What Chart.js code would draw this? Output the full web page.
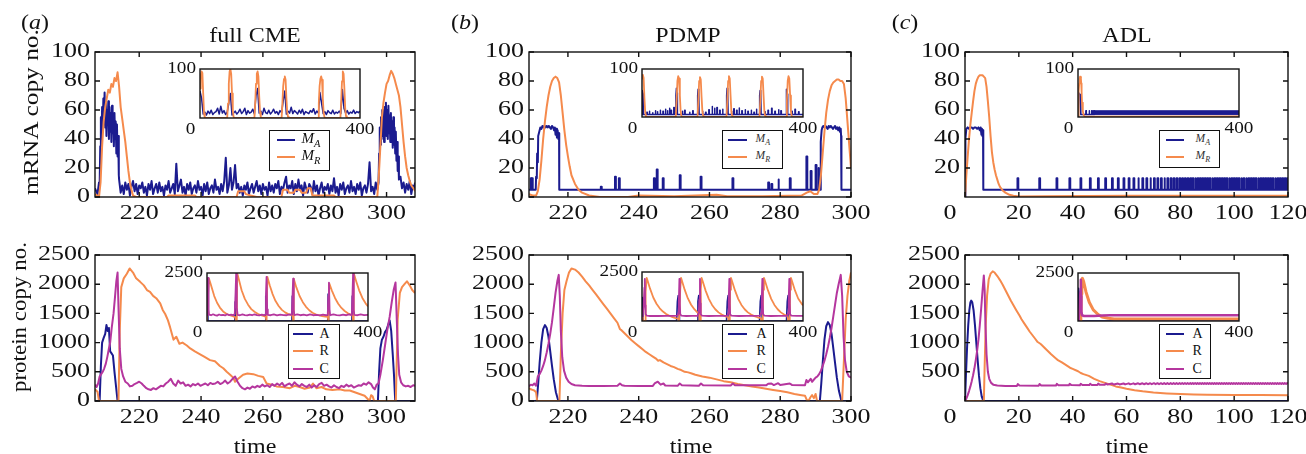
<!DOCTYPE html>
<html>
<head>
<meta charset="utf-8">
<title>Oscillator trajectories</title>
<script src="https://cdn.jsdelivr.net/npm/chart.js@4.4.1/dist/chart.umd.min.js"></script>
<style>
  body { margin: 0; background: #fff; }
  #fig { position: relative; width: 1306px; height: 454px; overflow: hidden; font-family: "Liberation Serif", "Times New Roman", serif; color: #111; }
  #fig canvas { position: absolute; }
  .lbl { position: absolute; white-space: nowrap; font-size: 20px; line-height: 20px; }
  .legend { position: absolute; background: #fff; border: 1.4px solid #111; box-sizing: border-box; }
  .swatch { position: absolute; height: 2px; }
  .entry { position: absolute; white-space: nowrap; line-height: 1; transform: translateY(-50%); }
  .entry sub { font-size: 0.7em; vertical-align: -0.35em; }
</style>
</head>
<body>
<div id="fig"></div>
<script>
const BLUE = '#1b1b8f', ORANGE = '#f58a4c', MAGENTA = '#b5369e';

// tick labels
const mrnaTicks = [0, 20, 40, 60, 80, 100];
const proteinTicks = [0, 500, 1000, 1500, 2000, 2500];
const adlMrnaTicks = [20, 40, 60, 80, 100];
const adlProteinTicks = [500, 1000, 1500, 2000, 2500];
const cmeTimeTicks = [220, 240, 260, 280, 300];
const pdmpTimeTicks = [220, 240, 260, 280, 300];
const adlTimeTicks = [0, 20, 40, 60, 80, 100, 120];
const insetTimeTicks = [0, 400];
const insetMrnaTicks = [100];
const insetProteinTicks = [2500];

// ---- full CME ----
const cmeMAHead = [[205.7,6],[206,6],[206.5,2],[207,10]];
const cmeMABurst1 = [[207.2,8],[207.4,35],[207.6,55],[207.8,40],[208,62],[208.2,45],[208.4,68],[208.6,50],[208.8,72],[209,48],[209.2,65],[209.4,42],[209.6,60],[209.8,50],[210,66],[210.2,40],[210.4,62],[210.6,45],[210.8,58],[211,38],[211.2,63],[211.4,44],[211.6,56],[211.8,35],[212,58],[212.2,40],[212.4,52],[212.6,30],[212.8,50],[213,28],[213.2,42],[213.4,15]];
const cmeMABaseStart = 213.5, cmeMABaseStep = 0.5;
const cmeMABase = [
  12, 3, 8, 2, 10, 5, 9, 1, 7, 11,
  4, 9, 2, 8, 6, 10, 3, 7, 1, 9,
  5, 11, 2, 6, 9, 3, 10, 4, 7, 1,
  8, 5, 11, 3, 6, 9, 2, 23, 4, 8,
  12, 3, 7, 1, 9, 5, 10, 2, 6, 8,
  3, 11, 5, 7, 1, 9, 4, 10, 2, 6,
  8, 3, 12, 5, 7, 2, 9, 4, 11, 27,
  3, 8, 20, 5, 10, 22, 6, 9, 3, 7,
  1, 8, 5, 10, 2, 6, 9, 3, 7, 11,
  4, 8, 2, 9, 5, 7, 1, 10, 4, 8,
  3, 9, 6, 11, 2, 7, 5, 10, 14, 3,
  8, 6, 11, 2, 9, 4, 12, 5, 8, 1,
  10, 6, 3, 9, 7, 2, 11, 4, 8, 1,
  6, 10, 3, 7, 5, 9, 2, 8, 4, 13,
  3, 7, 1, 9, 5, 10, 2, 6, 8, 3,
  11, 4, 7, 2, 9, 5, 10, 1, 6, 8,
  3, 9, 24, 4, 7, 2, 10, 5
];
const cmeMABurst2 = [[297.4,10],[297.6,30],[297.8,48],[298,36],[298.2,55],[298.4,40],[298.6,60],[298.8,42],[299,58],[299.2,38],[299.4,62],[299.6,45],[299.8,65],[300,42],[300.2,60],[300.4,40],[300.6,63],[300.8,44],[301,56],[301.2,38],[301.4,58],[301.6,40],[301.8,52],[302,34],[302.2,55],[302.4,36],[302.6,48],[302.8,30],[303,45],[303.2,25],[303.4,38],[303.6,18],[303.8,28],[304,12]];
const cmeMATail = [[304.5,14],[305,6],[305.5,10],[306,3],[306.5,9],[307,5],[307.5,11],[308,2],[308.5,8],[309,6],[309.2,10]];
const cmeMR = [[205.7,2],[206.5,1],[207,0],[207.5,10],[208,35],[208.5,52],[209,62],[209.5,68],[210,74],[210.5,72],[211,78],[211.5,76],[212,82],[212.5,80],[213,86],[213.5,76],[214,62],[214.5,54],[215,46],[215.5,38],[216,28],[216.5,18],[217,10],[217.5,5],[218,1],[219,0],[229,0],[229.5,1],[238,1],[238.5,0],[251.5,0],[252,4],[254,4],[254.5,2],[256,1],[258,0],[266,0],[266.5,5],[268,5],[268.5,3],[270,3],[270.5,5],[272,5],[272.5,3],[274,3],[274.5,6],[275.5,6],[276,1],[283,1],[283.5,0],[297,0],[297.5,15],[298,35],[298.5,55],[299,65],[299.5,72],[300,78],[300.5,80],[301,84],[301.5,87],[302,85],[302.5,82],[303,78],[303.5,74],[304,70],[304.5,62],[305,50],[305.5,38],[306,28],[306.5,20],[307,15],[307.5,11],[308,8],[309,5],[309.2,4]];
const cmeA = [[205.7,0],[207.2,0],[207.6,600],[208,1000],[208.5,1080],[209,1150],[209.4,1300],[209.8,1200],[210.2,1250],[210.6,850],[211,820],[211.5,780],[212,500],[212.5,250],[213,0],[297.2,0],[297.6,500],[298,900],[298.5,1050],[299,1100],[299.5,1180],[300,1220],[300.5,1300],[301,1380],[301.5,1200],[302,800],[302.4,450],[302.8,0],[309.2,0]];
const cmeR = [[205.7,200],[206.5,160],[207,0],[213.3,0],[213.7,1200],[214.2,1950],[215,2100],[216,2180],[216.9,2270],[218,2200],[219,2100],[220.3,2040],[221.5,1980],[222.5,1900],[223.5,1870],[224.5,1800],[225.5,1760],[226.8,1670],[227.6,1560],[228.4,1490],[229.3,1380],[230,1260],[231.1,1050],[232,1100],[233,980],[234,1000],[235.4,950],[236.5,900],[238,850],[239.7,800],[241,760],[242.9,700],[244.5,680],[246.1,600],[247.2,560],[248.3,500],[249.4,450],[250.4,400],[251,330],[252,380],[253.6,450],[255,470],[256.9,460],[258.5,430],[260.1,410],[261.2,300],[262.8,280],[264.4,250],[266.5,240],[268.7,220],[270.3,260],[271.9,240],[273.5,210],[275.2,230],[276.2,300],[277.3,220],[279,240],[280.5,200],[282.5,190],[284.8,200],[286.5,180],[288.1,180],[289.7,150],[291.3,120],[292.9,90],[294,30],[294.5,0],[295,100],[295.5,80],[296,0],[303,0],[303.6,1400],[304.3,1850],[305,1950],[305.8,2000],[306.6,2050],[307.5,1980],[308.3,1900],[309.2,1850]];
const cmeC = [[205.7,280],[206.2,240],[206.7,300],[207.2,420],[207.7,460],[208.2,500],[208.7,560],[209.2,640],[209.7,760],[210.2,900],[210.6,1000],[211.1,1250],[211.7,1500],[212.2,1800],[212.6,2050],[213,2200],[213.3,1600],[213.7,900],[214.2,550],[214.8,420],[215.5,330],[216.3,300],[217,250],[217.8,260],[218.5,290],[219.3,310],[220,330],[220.8,300],[221.5,260],[222.3,220],[223,200],[223.8,190],[224.6,220],[225.4,200],[226.2,230],[227,260],[227.8,250],[228.6,300],[229.4,330],[230.2,380],[231,300],[231.8,260],[232.6,350],[233.4,300],[234.2,320],[235,260],[235.8,280],[236.6,250],[237.4,290],[238.2,270],[239,300],[239.8,260],[240.6,280],[241.4,300],[242.2,270],[243,310],[243.8,290],[244.6,300],[245.4,330],[246.2,290],[247,310],[247.8,350],[248.6,300],[249.4,330],[250.2,380],[251,420],[251.8,330],[252.6,260],[253.4,220],[254.2,200],[255,230],[255.8,210],[256.6,250],[257.4,230],[258.2,260],[259,240],[259.8,280],[260.6,250],[261.4,270],[262.2,240],[263,290],[263.8,260],[264.6,300],[265.4,270],[266.2,310],[267,250],[267.8,280],[268.6,300],[269.4,260],[270.2,320],[271,280],[271.8,250],[272.6,290],[273.4,260],[274.2,240],[275,280],[275.8,230],[276.6,270],[277.4,240],[278.2,290],[279,310],[279.8,260],[280.6,280],[281.4,250],[282.2,230],[283,270],[283.8,240],[284.6,220],[285.4,260],[286.2,240],[287,280],[287.8,250],[288.6,270],[289.4,230],[290.2,250],[291,270],[291.8,260],[292.6,300],[293.4,280],[294.2,320],[295,290],[295.6,230],[296.2,200],[296.8,280],[297.4,300],[298,450],[298.8,700],[299.5,950],[300.2,1200],[301,1440],[301.7,1700],[302.3,1900],[302.9,2030],[303.3,1400],[303.7,800],[304.1,450],[304.7,320],[305.4,270],[306.2,250],[307,260],[307.8,240],[308.6,270],[309.2,260]];

const cmeInsetMAStep = 4;
const cmeInsetMA = [55, 40, 8, 12, 6, 14, 9, 16, 7, 11, 13, 20, 8, 24, 10, 15, 7, 12, 30, 50,
  6, 10, 14, 8, 12, 18, 9, 13, 20, 7, 15, 10, 12, 18, 8, 45, 60, 10, 14, 7,
  20, 11, 9, 16, 8, 12, 18, 10, 13, 7, 15, 11, 35, 55, 8, 14, 10, 22, 9, 15,
  12, 8, 16, 10, 18, 7, 13, 11, 9, 15, 12, 19, 8, 14, 10, 52, 30, 9, 13, 7,
  15, 11, 9, 16, 8, 12, 10, 14, 9, 58, 20, 10, 15, 8, 12, 10, 16, 9, 13, 11, 14];
const cmeInsetMR = [[0,60],[2,88],[4,95],[6,92],[8,50],[10,10],[12,0],[68,0],[70,30],[72,70],[74,95],[76,100],[78,90],[80,50],[82,15],[84,2],[86,0],[136,0],[138,30],[140,70],[142,90],[144,95],[146,85],[148,45],[150,12],[152,2],[154,0],[204,0],[206,30],[208,65],[210,80],[212,85],[214,78],[216,40],[218,12],[220,2],[222,0],[295,0],[297,30],[299,65],[301,80],[303,85],[305,78],[307,40],[309,12],[311,2],[313,0],[351,0],[353,35],[355,75],[357,95],[359,90],[361,60],[363,20],[365,4],[367,0],[400,0]];
const cmeInsetA = [[0,0],[0.5,2000],[1.5,1500],[2.5,0],[69,0],[70,1000],[71,1500],[72,0],[145,0],[146,1300],[147,0],[211,0],[212,1300],[213,0],[300,0],[301,1400],[302,0],[360,0],[361,1300],[362,0],[400,0]];
const cmeInsetR = [[0,0],[2,0],[3,1500],[5,2200],[8,2000],[13,1650],[18,1300],[25,950],[32,700],[40,500],[48,380],[56,300],[64,250],[70,200],[72,0],[74,0],[75,2500],[80,2100],[86,1600],[94,1150],[102,850],[110,620],[118,480],[126,380],[134,300],[142,250],[146,220],[148,0],[149,0],[150,2300],[156,1850],[163,1400],[170,1050],[178,780],[186,580],[194,450],[202,360],[210,300],[213,260],[214,0],[215,0],[216,2200],[222,1750],[230,1300],[238,980],[246,740],[254,560],[262,430],[270,350],[278,300],[286,260],[294,230],[300,210],[302,0],[303,0],[304,1950],[310,1600],[318,1200],[326,900],[334,680],[342,520],[350,400],[358,320],[362,280],[363,0],[364,0],[365,2500],[371,2050],[378,1600],[386,1200],[394,920],[400,760]];
const cmeInsetC = [[0,300],[1,1200],[2.5,2250],[4,600],[5,330],[10,300],[15,350],[20,310],[25,280],[30,340],[35,300],[40,320],[45,290],[50,350],[55,310],[60,330],[65,300],[69,360],[71,1500],[72.5,2500],[74,700],[76,320],[82,300],[88,340],[94,310],[100,290],[106,330],[112,300],[118,350],[124,310],[130,290],[136,330],[142,300],[145,340],[146.5,1400],[148,2300],[149.5,600],[151,320],[158,300],[166,340],[174,290],[182,330],[190,310],[198,300],[206,340],[211,320],[212.5,1300],[214,2200],[215.5,600],[217,310],[224,340],[232,300],[240,330],[248,290],[256,340],[264,300],[272,320],[280,290],[288,330],[296,300],[300,320],[301.5,1300],[303,2000],[304.5,600],[306,300],[314,340],[322,310],[330,290],[338,330],[346,300],[354,340],[360,310],[361.5,1400],[363,2500],[364.5,600],[366,320],[374,300],[382,340],[390,310],[400,320]];

// ---- PDMP ----
const pdmpMABase = 5;
const pdmpMASpikes = [[209.5,13],[209.8,13],[229.3,7],[233.3,14],[234.4,13],[244.3,13],[245.1,19],[246.8,13],[251.6,15],[257.5,14],[266.5,13],[276.6,10],[277.5,9],[279.4,12],[282.7,13],[287.4,28],[288.6,18],[290,22],[290.7,20]];
const pdmpMABursts = [
  [[210.9,5],[211,14],[211.2,13],[211.3,30],[211.5,24],[211.6,42],[211.9,45],[212.2,48],[212.5,47],[212.8,49],[213.1,48],[213.4,49],[213.7,48],[214,49],[214.3,48],[214.6,49],[214.9,48],[215.2,47],[215.5,49],[215.8,48],[216.1,46],[216.3,48],[216.5,43],[216.7,47],[216.9,41],[217.1,46],[217.3,40],[217.5,44],[217.55,5]],
  [[291.3,5],[291.4,20],[291.5,38],[291.7,46],[291.9,48],[292.2,49],[292.5,48],[292.8,49],[293.1,48],[293.4,47],[293.7,49],[294,48],[294.3,49],[294.6,48],[294.9,47],[295.2,48],[295.5,49],[295.8,47],[296.1,48],[296.4,46],[296.7,48],[296.9,45],[297.1,47],[297.2,42],[297.3,5]]
];
const pdmpMR = [[209,2],[210,1],[211,1],[211.5,4],[212,12],[212.5,25],[213,40],[213.5,52],[214,62],[214.5,70],[215,76],[215.5,80],[216,82],[216.5,83],[217,82],[217.5,79],[218,70],[218.5,58],[219,46],[219.5,36],[220,28],[220.5,21],[221,15],[222,9],[223,5],[224,3],[226,1],[229,0],[237,0],[240,1],[250,0.5],[262,1.5],[265,0.5],[275,0.5],[286,1],[287.5,3],[288.5,4],[289.5,2],[290.5,2],[291,5],[291.5,15],[292,30],[292.5,45],[293,58],[293.5,67],[294,73],[294.5,77],[295,79],[295.5,80],[296,81],[296.5,81],[297,80],[297.5,80],[298,78],[298.5,68],[299,52],[299.5,36],[300,20]];
const pdmpA = [[209,0],[211.2,0],[211.6,300],[212,650],[212.5,1000],[213,1230],[213.5,1300],[214,1250],[214.5,1100],[215,850],[215.5,600],[216,370],[216.6,150],[217.3,0],[291.2,0],[291.6,300],[292,650],[292.5,1050],[293,1280],[293.5,1350],[294,1300],[294.5,1150],[295,900],[295.5,650],[296,400],[296.6,170],[297.3,0],[300,0]];
const pdmpR = [[209,220],[209.5,200],[210,190],[210.5,180],[211,150],[211.3,0],[217.6,0],[218,800],[218.5,1500],[219,1900],[219.6,2050],[220.3,2200],[221,2270],[222,2250],[223,2200],[224,2130],[225,2050],[226,1980],[227,1900],[228,1820],[229,1740],[230,1660],[231,1580],[232,1500],[233,1420],[234,1340],[234.7,1230],[235,1220],[236,1160],[237,1100],[238,1040],[239,990],[240,940],[241,890],[242,840],[243,800],[244,760],[245,720],[245.5,690],[246,700],[247,660],[248,630],[249,600],[250,580],[251,550],[252,530],[253,500],[254,490],[255,470],[256,450],[258,420],[260,400],[262,370],[264,340],[266,320],[268,290],[270,270],[272,250],[274,230],[276,210],[278,190],[280,170],[282,150],[284,120],[286,100],[287,90],[287.5,20],[288,0],[288.5,60],[289,100],[289.5,50],[290,120],[290.4,0],[297.5,0],[298,700],[298.5,1400],[299,1800],[299.5,2050],[300,2200]];
const pdmpC = [[209,250],[209.5,280],[210,270],[210.5,300],[211,260],[211.5,420],[212,460],[212.5,520],[213,600],[213.5,700],[214,830],[214.5,980],[215,1150],[215.5,1350],[216,1600],[216.5,1850],[217,2050],[217.4,2160],[217.7,1800],[218,1200],[218.4,750],[218.9,520],[219.5,400],[220.2,330],[221,290],[222,270],[224,260],[226,255],[230,255],[234,260],[234.7,300],[235.3,270],[236,260],[240,255],[244,258],[244.5,300],[245.4,330],[246.2,280],[247,300],[247.5,265],[251,260],[251.6,300],[252.2,270],[257,262],[257.6,300],[258.2,268],[266,265],[266.6,300],[267.2,270],[276,268],[276.6,295],[277.5,300],[278.2,272],[279.4,305],[280,275],[282.7,300],[283.3,275],[287,270],[287.4,360],[287.8,320],[288.6,380],[289,330],[290,400],[290.5,420],[291,460],[291.5,520],[292,600],[292.5,690],[293,800],[293.5,930],[294,1080],[294.5,1250],[295,1450],[295.5,1650],[296,1850],[296.5,2000],[297.1,2160],[297.5,1800],[297.9,1100],[298.3,700],[298.8,500],[299.4,420],[300,400]];

const pdmpInsetMASpikes = [[12,10],[18,12],[26,9],[33,13],[38,11],[45,14],[52,12],[58,16],[63,13],[68,18],[72,14],[79,20],[100,12],[106,14],[118,10],[126,13],[150,12],[158,10],[166,15],[174,22],[180,18],[186,20],[193,14],[200,16],[222,12],[228,17],[235,14],[241,19],[248,13],[256,15],[263,12],[271,14],[278,10],[284,16],[305,11],[313,14],[322,18],[330,12],[339,15],[345,13],[372,12],[380,16],[389,11]];
const pdmpInsetMABursts = [
  [[0,45],[1.5,55],[3,48],[3.5,5]],
  [[84,5],[84.3,45],[85.5,60],[87,50],[88,5]],
  [[138,5],[138.3,45],[139.5,58],[141,50],[142,5]],
  [[210,5],[210.3,45],[211.5,60],[213,48],[214,5]],
  [[292,5],[292.3,45],[293.5,55],[295,50],[296,5]],
  [[358,5],[358.3,45],[359.5,58],[361,48],[362,5]]
];
const pdmpInsetMR = [[0,80],[2,88],[4,82],[6,40],[8,10],[10,1],[14,0],[84,0],[86,35],[88,75],[90,85],[92,80],[94,45],[96,12],[98,2],[100,0],[138,0],[140,35],[142,75],[144,83],[146,78],[148,42],[150,12],[152,2],[154,0],[210,0],[212,35],[214,75],[216,85],[218,80],[220,45],[222,12],[224,2],[226,0],[292,0],[294,35],[296,75],[298,84],[300,80],[302,45],[304,12],[306,2],[308,0],[358,0],[360,35],[362,75],[364,85],[366,80],[368,45],[370,12],[372,2],[374,0],[400,0]];
const pdmpInsetA = [[0,800],[1,1200],[3,0],[86,0],[88,1000],[90,1300],[92,500],[93,0],[137,0],[139,1000],[141,1300],[143,400],[144,0],[210,0],[212,1000],[214,1300],[216,400],[217,0],[292,0],[294,1000],[296,1300],[298,400],[299,0],[359,0],[361,1000],[363,1300],[365,400],[366,0],[400,0]];
const pdmpInsetR = [[0,200],[2,0],[8,0],[9,1500],[11.6,2200],[14,2050],[20,1650],[28,1200],[36,880],[44,650],[52,480],[60,360],[68,270],[76,200],[84,150],[90,120],[92,0],[94,0],[95,1600],[97,2200],[100,2000],[106,1600],[114,1150],[122,830],[130,600],[138,430],[142,360],[143,0],[145,0],[146,1600],[148,2200],[152,1950],[158,1550],[166,1130],[174,820],[182,600],[190,440],[198,330],[206,250],[214,190],[216,0],[218,0],[219,1600],[221,2200],[225,1950],[231,1560],[239,1130],[247,820],[255,600],[263,440],[271,330],[279,250],[287,190],[295,150],[297,0],[300,0],[301,1600],[303,2200],[307,1950],[313,1560],[321,1130],[329,820],[337,600],[345,440],[353,330],[361,250],[364,0],[367,0],[368,1600],[370,2200],[374,1950],[380,1560],[388,1150],[396,900],[400,800]];
const pdmpInsetC = [[0,250],[2,350],[4,800],[6,1700],[7,2150],[8,800],[9,350],[12,270],[20,255],[40,255],[60,260],[80,258],[88,270],[90,400],[91.5,1000],[93,2150],[94,900],[95,350],[98,270],[110,255],[125,260],[138,258],[141,400],[142.5,1100],[144,2150],[145,900],[146,350],[149,270],[165,255],[185,260],[205,258],[212,270],[214,400],[215.5,1100],[217,2150],[218,900],[219,350],[222,270],[240,255],[260,260],[280,258],[293,270],[296,400],[297.5,1100],[299,2150],[300,900],[301,350],[304,270],[320,255],[340,260],[360,265],[363,400],[364.5,1100],[366,2150],[367,900],[368,350],[371,270],[385,258],[400,260]];

// ---- ADL ----
const adlMABase = 5, adlSpikeLevel = 13;
const adlMABurst = [[0,0],[0.3,40],[0.5,47],[1,48],[1.5,47],[2,48],[2.5,48],[3,47],[3.5,48],[4,48],[4.5,47],[5,48],[5.5,46],[5.8,48],[6.1,43],[6.3,47],[6.5,42],[6.7,46],[6.8,5]];
const adlSpikeTimes = [19.5, 27.6, 34, 38.8, 42.9, 46.4, 49.4, 52.1, 54.6, 56.8, 58.9, 60.8, 62.6, 64.3, 65.9, 67.4, 68.8, 70.2, 71.5, 72.8, 74.0, 75.2, 76.4, 77.5, 78.6, 79.7, 80.7, 81.7, 82.7, 83.7, 84.6, 85.5, 86.4, 87.3, 88.2, 89.1, 90.0, 90.9, 91.8, 92.7, 93.6, 94.5, 95.4, 96.3, 97.2, 98.1, 99.0, 99.9, 100.8, 101.7, 102.6, 103.5, 104.4, 105.3, 106.2, 107.1, 108.0, 108.9, 109.8, 110.7, 111.6, 112.5, 113.4, 114.3, 115.2, 116.1, 117.0, 117.9, 118.8, 119.7];
const adlMR = [[0,0],[0.5,15],[1,28],[1.5,40],[2,50],[2.5,58],[3,66],[3.5,73],[4,78],[4.5,81],[5,83],[5.5,84],[6,84],[6.5,84],[7,83],[7.5,82],[8,76],[8.5,66],[9,55],[9.5,42],[10,31],[10.5,24],[11,19],[11.5,15],[12,12],[12.5,9],[13,7],[14,4.5],[15,3],[16.5,1.5],[18,0.8],[20,0.3],[30,0.5],[60,0.8],[120,0.8]];
const adlA = [[0,0],[0.4,500],[0.8,950],[1.2,1300],[1.6,1550],[2,1690],[2.3,1720],[2.7,1690],[3.2,1550],[3.7,1300],[4.2,1000],[4.7,700],[5.2,430],[5.7,220],[6.2,80],[6.8,0],[120,0]];
const adlR = [[0,0],[7,0],[7.3,600],[7.7,1300],[8.2,1800],[8.8,2080],[9.5,2180],[10.3,2220],[11,2200],[12,2140],[13,2070],[14,1990],[15,1900],[16,1810],[17,1720],[18,1640],[19,1560],[19.9,1490],[20.3,1460],[21,1400],[22,1330],[23,1260],[24,1190],[25,1130],[26,1070],[27,1010],[28,980],[28.5,960],[30,890],[32,800],[34,720],[34.5,700],[36,660],[38,600],[39,570],[40,550],[42,510],[43,480],[44,460],[46,430],[48,380],[50,340],[52,310],[54,280],[56,250],[58,230],[60,210],[63,185],[66,165],[70,145],[75,130],[80,120],[85,112],[90,108],[100,104],[110,102],[120,100]];
const adlC = [[0,0],[0.5,40],[1,100],[1.5,170],[2,250],[2.5,340],[3,440],[3.5,560],[4,700],[4.5,860],[5,1050],[5.5,1300],[6,1580],[6.5,1880],[7,2150],[7.3,1900],[7.6,1300],[8,800],[8.5,500],[9,380],[9.7,310],[10.5,280],[12,265],[15,258],[19.3,258],[19.6,290],[20.2,265],[27.4,262],[27.7,292],[28.3,267],[33.8,265],[34.1,293],[34.7,270],[38.6,268],[38.9,294],[39.5,272],[42.7,270],[43,295],[43.6,274],[46.2,272],[46.5,296],[47.1,275],[49.2,275],[49.5,297],[50.1,277],[52,278],[52.3,298],[53,281],[54.6,300],[55.3,282],[56.8,300],[57.4,283],[58.9,301],[59.5,284],[60.8,302],[61.4,285],[62.6,302],[63.2,286],[64.3,303],[64.9,287],[65.9,303],[66.5,287],[67.4,304],[68,288],[68.8,304],[69.4,288],[70.2,305],[70.8,289],[71.5,305],[72.1,289],[72.8,305],[73.4,290],[74,306],[74.6,290],[75.2,306],[75.8,290],[76.4,306],[77,291],[77.5,306],[78,291],[78.6,306],[79.1,291],[79.7,306],[80.2,291],[80.7,306],[81.2,291],[81.7,306],[82.2,291],[82.7,306],[83.2,291],[83.7,306],[84.1,291],[84.6,306],[85,291],[85.5,306],[86,291],[86.4,306],[86.9,291],[87.3,306],[87.8,291],[88.2,306],[88.7,291],[89.1,306],[89.6,291],[90,306],[90.5,291],[90.9,306],[91.4,291],[91.8,306],[92.3,291],[92.7,306],[93.2,291],[93.6,306],[94.1,291],[94.5,306],[95,291],[95.4,306],[95.9,291],[96.3,306],[96.8,291],[97.2,306],[97.7,291],[98.1,306],[98.6,291],[99,306],[99.5,291],[99.9,306],[100.4,291],[100.8,306],[101.3,291],[101.7,306],[102.2,291],[102.6,306],[103.1,291],[103.5,306],[104,291],[104.4,306],[104.9,291],[105.3,306],[105.8,291],[106.2,306],[106.7,291],[107.1,306],[107.6,291],[108,306],[108.5,291],[108.9,306],[109.4,291],[109.8,306],[110.3,291],[110.7,306],[111.2,291],[111.6,306],[112.1,291],[112.5,306],[113,291],[113.4,306],[113.9,291],[114.3,306],[114.8,291],[115.2,306],[115.7,291],[116.1,306],[116.6,291],[117,306],[117.5,291],[117.9,306],[118.4,291],[118.8,306],[119.3,291],[119.7,306],[120,295]];

const adlInsetMA = [[0,0],[0.5,50],[1.5,52],[3,48],[5,47],[6.8,46],[7.2,5],[19.4,5],[19.5,13],[20.5,13],[20.6,5],[27.5,5],[27.6,13],[28.6,13],[28.7,5],[33.9,5],[34,13],[35,13],[35.1,5],[38.7,5],[38.8,13],[39.8,13],[39.9,5],[42,5]];
const adlInsetBandLow = [[42,5],[400,5]];
const adlInsetBandHigh = [[42,13],[400,13]];
const adlInsetMR = [[0,0],[1,25],[2,50],[3,70],[4,80],[5,84],[7,83],[8,70],[9,52],[10,30],[12,12],[14,4],[17,1],[20,0.5],[400,1]];
const adlInsetA = [[0,0],[1,1200],[2,1700],[3.5,1300],[5,600],[6.8,0],[400,0]];
const adlInsetR = [[0,0],[7,0],[8,1400],[9.5,2100],[11,2220],[14,2050],[20,1500],[28,980],[38,580],[50,340],[60,210],[75,140],[90,110],[110,100],[400,100]];
const adlInsetC = [[0,0],[2,250],[4,700],[6,1500],[7,2150],[7.6,1300],[8.5,500],[10,300],[15,260],[40,265],[60,285],[80,295],[400,300]];

// ---------- helpers ----------
const xy = pairs => pairs.map(([x, y]) => ({x, y}));
const series = (start, step, vals) => vals.map((v, i) => ({x: start + i * step, y: v}));

// rectangular bursts on a flat baseline
function pulses(base, spikes, width, bursts, t0, t1) {
  const groups = spikes.map(([t, h]) => [[t, base], [t, h], [t + width, h], [t + width, base]]).concat(bursts);
  groups.sort((g, k) => g[0][0] - k[0][0]);
  return xy([[t0, base], ...groups.flat(), [t1, base]]);
}

function line(label, data, color, order, width) {
  return { label, data, borderColor: color, backgroundColor: color, borderWidth: width || 2,
           pointRadius: 0, tension: 0, order, fill: false, borderJoinStyle: 'round' };
}

const framePlugin = {
  id: 'frame',
  beforeDatasetsDraw(chart, args, o) {
    if (!o.fill) return;
    const {ctx, chartArea: a} = chart;
    ctx.save();
    ctx.fillStyle = '#fff';
    ctx.fillRect(a.left, a.top, a.width, a.height);
    ctx.restore();
  },
  afterDatasetsDraw(chart, args, o) {
    const {ctx, chartArea: a, scales: {x, y}} = chart;
    ctx.save();
    ctx.strokeStyle = '#111';
    ctx.lineWidth = o.lineWidth;
    if (o.tick) {
      ctx.beginPath();
      x.ticks.forEach(t => {
        const p = x.getPixelForValue(t.value);
        ctx.moveTo(p, a.bottom); ctx.lineTo(p, a.bottom - o.tick);
        ctx.moveTo(p, a.top); ctx.lineTo(p, a.top + o.tick);
      });
      y.ticks.forEach(t => {
        const p = y.getPixelForValue(t.value);
        ctx.moveTo(a.left, p); ctx.lineTo(a.left + o.tick, p);
        ctx.moveTo(a.right, p); ctx.lineTo(a.right - o.tick, p);
      });
      ctx.stroke();
    }
    ctx.strokeRect(a.left, a.top, a.width, a.height);
    ctx.fillStyle = '#111';
    ctx.font = o.size + 'px "Liberation Serif", "Times New Roman", serif';
    ctx.textBaseline = 'middle';
    const put = (text, px, py, align) => {
      ctx.save();
      ctx.translate(px, py);
      ctx.scale(o.stretch, 1);
      ctx.textAlign = align;
      ctx.fillText(text, 0, 0);
      ctx.restore();
    };
    x.ticks.forEach((t, i) => put(String(t.value), x.getPixelForValue(t.value) + (i === 0 ? o.firstShift : 0), a.bottom + o.xGap, 'center'));
    y.ticks.forEach(t => put(String(t.value), a.left - o.yGap, y.getPixelForValue(t.value), 'right'));
    ctx.restore();
  }
};

const fig = document.getElementById('fig');
const mainPad = {l: 80, r: 30, t: 20, b: 45};
const insetPad = {l: 50, r: 25, t: 12, b: 24};
const mainLook = {size: 20, stretch: 1.3, tick: 5, xGap: 17, yGap: 5, firstShift: 0, lineWidth: 1.4, fill: false};
const insetLook = {size: 16, stretch: 1.2, tick: 0, xGap: 11.5, yGap: 4, firstShift: -9.5, lineWidth: 1.4, fill: true};

function plot(box, pad, xr, yr, xTicks, yTicks, datasets, look) {
  const [l, t, r, b] = box;
  const w = r - l + pad.l + pad.r, h = b - t + pad.t + pad.b;
  const cv = document.createElement('canvas');
  cv.width = w; cv.height = h;
  cv.style.left = (l - pad.l) + 'px';
  cv.style.top = (t - pad.t) + 'px';
  cv.style.width = w + 'px';
  cv.style.height = h + 'px';
  fig.appendChild(cv);
  return new Chart(cv, {
    type: 'line',
    data: { datasets },
    options: {
      responsive: false, animation: false, events: [],
      layout: { padding: { top: pad.t, right: pad.r, left: 0, bottom: 0 } },
      plugins: { legend: { display: false }, tooltip: { enabled: false }, frame: look },
      scales: {
        x: { type: 'linear', min: xr[0], max: xr[1], grid: { display: false }, border: { display: false },
             ticks: { display: false },
             afterBuildTicks: s => { s.ticks = xTicks.map(v => ({ value: v })); },
             afterFit: s => { s.height = pad.b; s.paddingLeft = 0; s.paddingRight = 0; } },
        y: { type: 'linear', min: yr[0], max: yr[1], grid: { display: false }, border: { display: false },
             ticks: { display: false },
             afterBuildTicks: s => { s.ticks = yTicks.map(v => ({ value: v })); },
             afterFit: s => { s.width = pad.l; s.paddingTop = 0; s.paddingBottom = 0; } }
      }
    },
    plugins: [framePlugin]
  });
}

// ---------- main panels ----------
const cmeMAPoints = [...xy(cmeMAHead), ...xy(cmeMABurst1), ...series(cmeMABaseStart, cmeMABaseStep, cmeMABase), ...xy(cmeMABurst2), ...xy(cmeMATail)];
plot([95, 52, 415, 197], mainPad, [205.7, 309.2], [0, 100], cmeTimeTicks, mrnaTicks, [
  line('M_A', cmeMAPoints, BLUE, 2),
  line('M_R', xy(cmeMR), ORANGE, 1)
], mainLook);
plot([95, 255, 415, 401], mainPad, [205.7, 309.2], [0, 2500], cmeTimeTicks, proteinTicks, [
  line('A', xy(cmeA), BLUE, 3),
  line('R', xy(cmeR), ORANGE, 2),
  line('C', xy(cmeC), MAGENTA, 1)
], mainLook);

plot([529, 52, 851, 197], mainPad, [209, 300], [0, 100], pdmpTimeTicks, mrnaTicks, [
  line('M_A', pulses(pdmpMABase, pdmpMASpikes, 0.25, pdmpMABursts, 209, 300), BLUE, 2),
  line('M_R', xy(pdmpMR), ORANGE, 1)
], mainLook);
plot([529, 255, 851, 401], mainPad, [209, 300], [0, 2500], pdmpTimeTicks, proteinTicks, [
  line('A', xy(pdmpA), BLUE, 3),
  line('R', xy(pdmpR), ORANGE, 2),
  line('C', xy(pdmpC), MAGENTA, 1)
], mainLook);

const adlLook = Object.assign({}, mainLook, { firstShift: -15 });
plot([965, 52, 1288, 197], mainPad, [0, 120], [0, 100], adlTimeTicks, adlMrnaTicks, [
  line('M_A', pulses(adlMABase, adlSpikeTimes.map(t => [t, adlSpikeLevel]), 0.3, [adlMABurst], 0, 120), BLUE, 2),
  line('M_R', xy(adlMR), ORANGE, 1)
], adlLook);
plot([965, 255, 1288, 401], mainPad, [0, 120], [0, 2500], adlTimeTicks, adlProteinTicks, [
  line('A', xy(adlA), BLUE, 3),
  line('R', xy(adlR), ORANGE, 2),
  line('C', xy(adlC), MAGENTA, 1)
], adlLook);

// ---------- insets ----------
plot([200, 69, 360, 118], insetPad, [0, 400], [0, 100], insetTimeTicks, insetMrnaTicks, [
  line('M_A', series(0, cmeInsetMAStep, cmeInsetMA), BLUE, 2, 1.5),
  line('M_R', xy(cmeInsetMR), ORANGE, 1, 1.8)
], insetLook);
plot([207, 273, 368, 321], insetPad, [0, 400], [0, 2500], insetTimeTicks, insetProteinTicks, [
  line('A', xy(cmeInsetA), BLUE, 3, 1.6),
  line('R', xy(cmeInsetR), ORANGE, 2, 1.8),
  line('C', xy(cmeInsetC), MAGENTA, 1, 1.8)
], insetLook);
plot([642, 69, 803, 117], insetPad, [0, 400], [0, 100], insetTimeTicks, insetMrnaTicks, [
  line('M_A', pulses(5, pdmpInsetMASpikes, 1.2, pdmpInsetMABursts, 0, 400), BLUE, 2, 1.5),
  line('M_R', xy(pdmpInsetMR), ORANGE, 1, 1.8)
], insetLook);
plot([642, 272, 803, 321], insetPad, [0, 400], [0, 2500], insetTimeTicks, insetProteinTicks, [
  line('A', xy(pdmpInsetA), BLUE, 3, 1.6),
  line('R', xy(pdmpInsetR), ORANGE, 2, 1.8),
  line('C', xy(pdmpInsetC), MAGENTA, 1, 1.8)
], insetLook);
const band = Object.assign(line('M_A', xy(adlInsetBandHigh), BLUE, 3, 1), { fill: '-1' });
plot([1078, 69, 1239, 117], insetPad, [0, 400], [0, 100], insetTimeTicks, insetMrnaTicks, [
  line('M_A', xy(adlInsetMA), BLUE, 2, 1.5),
  line('M_R', xy(adlInsetMR), ORANGE, 1, 1.8),
  line('M_A', xy(adlInsetBandLow), BLUE, 4, 1),
  band
], insetLook);
plot([1078, 273, 1239, 321], insetPad, [0, 400], [0, 2500], insetTimeTicks, insetProteinTicks, [
  line('A', xy(adlInsetA), BLUE, 3, 1.6),
  line('R', xy(adlInsetR), ORANGE, 2, 3),
  line('C', xy(adlInsetC), MAGENTA, 1, 2.5)
], insetLook);

// ---------- legends ----------
const mrnaEntries = [
  { color: BLUE, html: '<i>M</i><sub><i>A</i></sub>' },
  { color: ORANGE, html: '<i>M</i><sub><i>R</i></sub>' }
];
const proteinEntries = [
  { color: BLUE, html: 'A' },
  { color: ORANGE, html: 'R' },
  { color: MAGENTA, html: 'C' }
];

function legend(box, rows, sw, tx, font, entries) {
  const [l, t, r, b] = box;
  const d = document.createElement('div');
  d.className = 'legend';
  d.style.left = l + 'px'; d.style.top = t + 'px';
  d.style.width = (r - l) + 'px'; d.style.height = (b - t) + 'px';
  fig.appendChild(d);
  entries.forEach((e, i) => {
    const s = document.createElement('div');
    s.className = 'swatch';
    s.style.left = (sw[0] - l - 1.4) + 'px';
    s.style.top = (rows[i] - t - 2.4) + 'px';
    s.style.width = (sw[1] - sw[0]) + 'px';
    s.style.background = e.color;
    d.appendChild(s);
    const n = document.createElement('div');
    n.className = 'entry';
    n.innerHTML = e.html;
    n.style.left = (tx - l - 1.4) + 'px';
    n.style.top = (rows[i] - t - 1.4) + 'px';
    Object.assign(n.style, font);
    d.appendChild(n);
  });
}

const bigMath = { fontSize: '15px' };
const smallMath = { fontSize: '11.5px', color: '#333' };
const plain = { fontSize: '14px' };
legend([269, 130, 330, 171], [140, 157.5], [277, 295], 302, bigMath, mrnaEntries);
legend([288, 324, 340, 379], [334, 351.5, 369.5], [293, 313], 320, plain, proteinEntries);
legend([722, 130, 783, 169], [140, 157], [728, 747], 756, smallMath, mrnaEntries);
legend([722, 324, 774, 379], [334, 351.5, 369.5], [728, 747], 757, plain, proteinEntries);
legend([1159, 130, 1220, 168], [140, 157], [1166, 1184], 1196, smallMath, mrnaEntries);
legend([1159, 324, 1211, 379], [334, 351.5, 369.5], [1166, 1184], 1193, plain, proteinEntries);

// ---------- titles and axis names ----------
function label(html, x, y, opt) {
  const d = document.createElement('div');
  d.className = 'lbl';
  d.innerHTML = html;
  d.style.left = x + 'px';
  d.style.top = y + 'px';
  d.style.transform = 'translate(-50%,-50%)' + (opt.rot ? ' rotate(-90deg)' : '') + ' scaleX(' + opt.sx + ')';
  fig.appendChild(d);
}
label('(<i>a</i>)', 35, 22, { sx: 1.2 });
label('(<i>b</i>)', 465, 22, { sx: 1.2 });
label('(<i>c</i>)', 905, 22, { sx: 1.2 });
label('full CME', 255, 35, { sx: 1.2 });
label('PDMP', 688, 35, { sx: 1.2 });
label('ADL', 1127, 35, { sx: 1.2 });
label('time', 255, 446, { sx: 1.2 });
label('time', 691, 446, { sx: 1.2 });
label('time', 1127, 446, { sx: 1.2 });
label('mRNA copy no.', 31, 112, { sx: 1.27, rot: true });
label('protein copy no.', 18.5, 317, { sx: 1.15, rot: true });
</script>
</body>
</html>
